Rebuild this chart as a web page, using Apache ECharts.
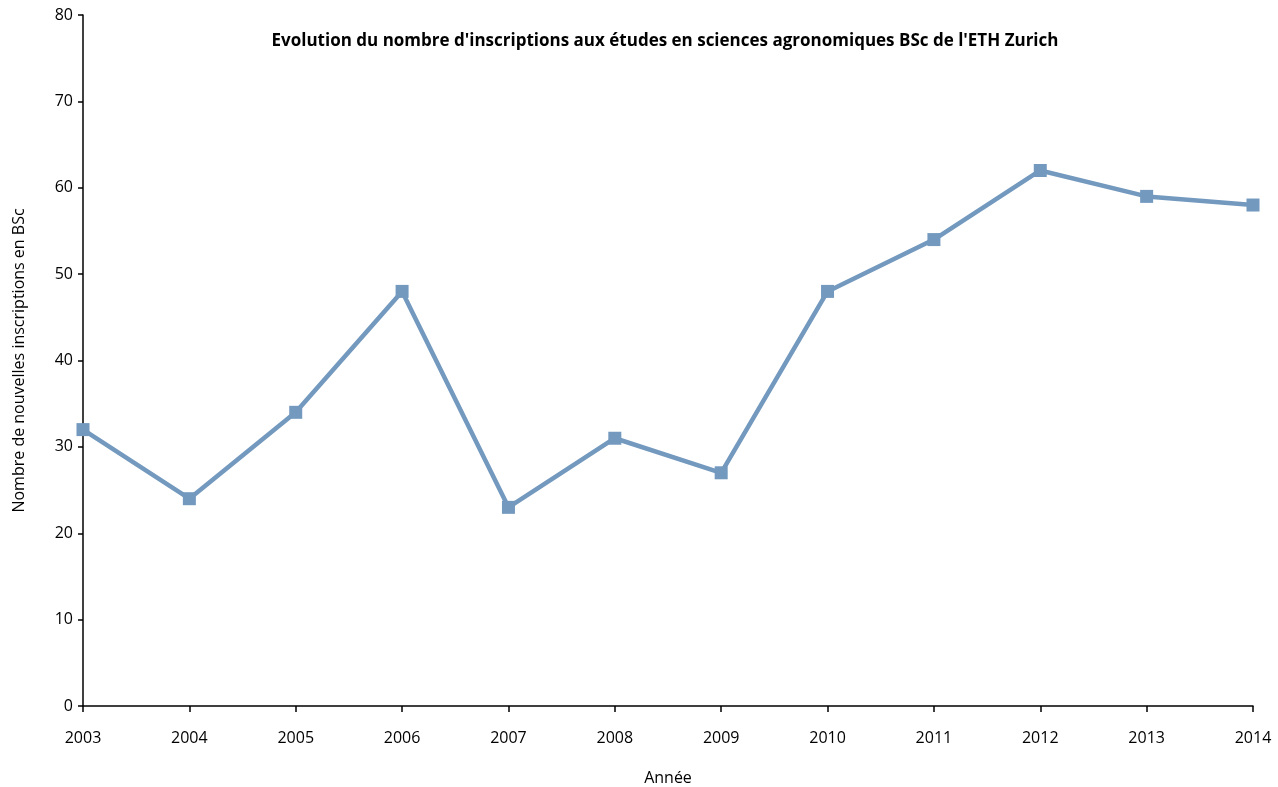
<!DOCTYPE html>
<html><head><meta charset="utf-8">
<script src="https://cdn.jsdelivr.net/npm/echarts@6/dist/echarts.min.js"></script>
<style>html,body{margin:0;padding:0;background:#fff}#c{width:1278px;height:787px}</style>
</head><body><div id="c"></div>
<script>
const years = ['2003','2004','2005','2006','2007','2008','2009','2010','2011','2012','2013','2014'];
const inscriptions = [32,24,34,48,23,31,27,48,54,62,59,58];
const FONT = '"Open Sans", sans-serif';
const chart = echarts.init(document.getElementById('c'));
chart.setOption({
  animation: false,
  title: {
    text: "Evolution du nombre d'inscriptions aux études en sciences agronomiques BSc de l'ETH Zurich",
    left: 660, top: 28, textAlign: 'center',
    textStyle: {fontFamily: FONT, fontSize: 17, fontWeight: 'bold', color: '#000'}
  },
  grid: {left: 83, right: 25, top: 15, bottom: 81, containLabel: false, outerBoundsMode: 'none'},
  xAxis: {
    type: 'category', data: years, boundaryGap: false,
    name: 'Année', nameLocation: 'middle', nameGap: 64,
    nameTextStyle: {fontFamily: FONT, fontSize: 16, color: '#000'},
    axisLine: {lineStyle: {color: '#000', width: 1.5}},
    axisTick: {show: true, inside: false, length: 6, alignWithLabel: true, lineStyle: {color: '#000', width: 1.5}},
    axisLabel: {fontFamily: FONT, fontSize: 16, color: '#000', margin: 24, interval: 0},
    splitLine: {show: false}
  },
  yAxis: {
    type: 'value', min: 0, max: 80, interval: 10,
    name: 'Nombre de nouvelles inscriptions en BSc', nameLocation: 'middle', nameGap: 56,
    nameTextStyle: {fontFamily: FONT, fontSize: 16, color: '#000'},
    axisLine: {show: true, lineStyle: {color: '#000', width: 1.5}},
    axisTick: {show: true, inside: false, length: 5, lineStyle: {color: '#000', width: 1.5}},
    axisLabel: {fontFamily: FONT, fontSize: 16, color: '#000', margin: 10},
    splitLine: {show: false}
  },
  series: [{
    type: 'line', data: inscriptions,
    symbol: 'rect', symbolSize: 13,
    lineStyle: {color: '#7399bf', width: 4.5},
    itemStyle: {color: '#7399bf'}
  }]
});
</script></body></html>
